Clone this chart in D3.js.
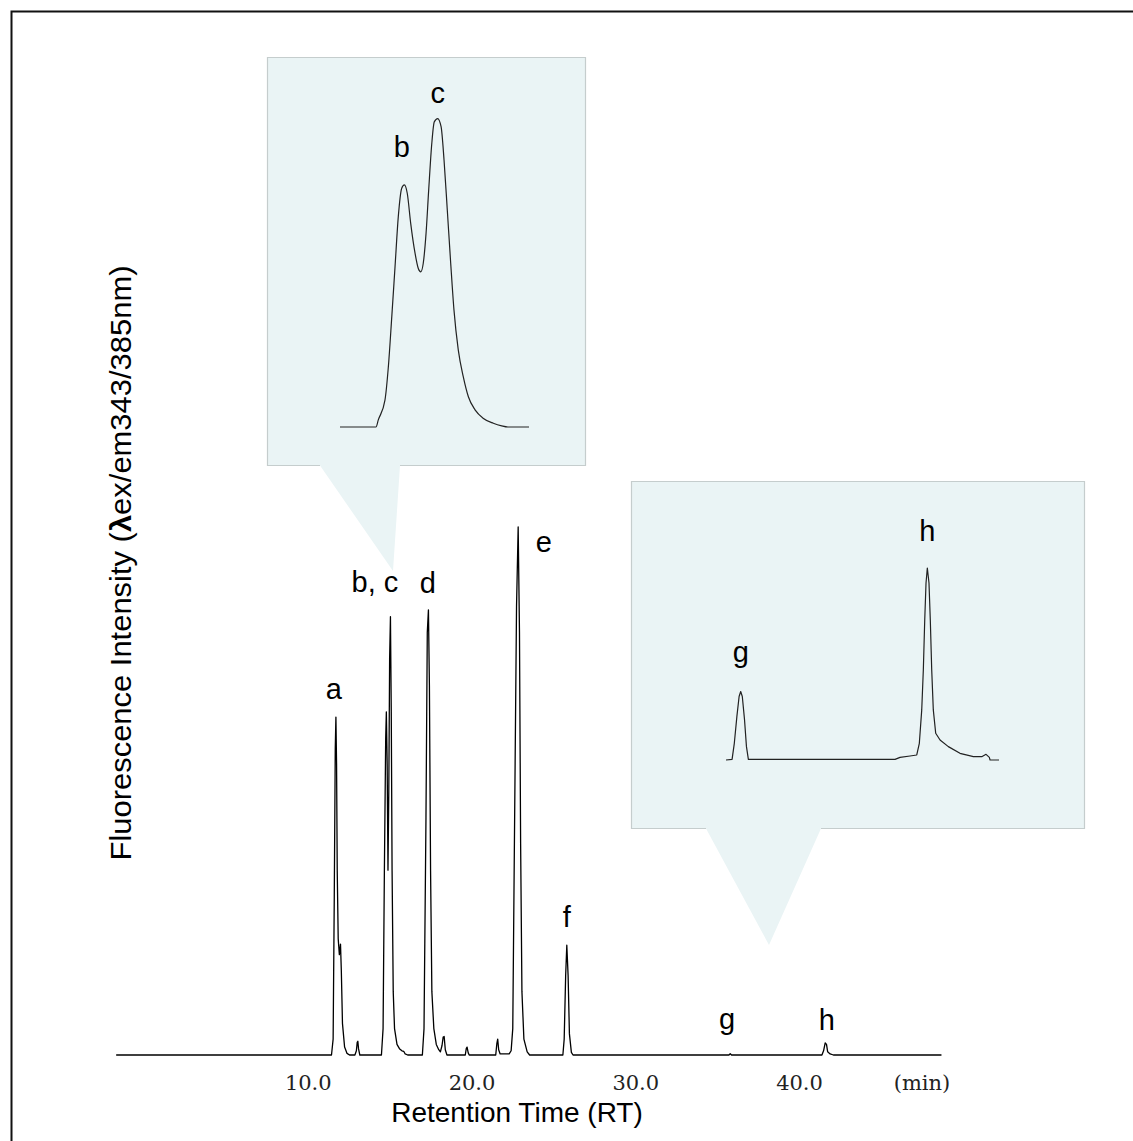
<!DOCTYPE html>
<html>
<head>
<meta charset="utf-8">
<script src="https://cdn.jsdelivr.net/npm/d3@7"></script>
<style>
  body { margin: 0; background: #fff; }
  .peak-label { font-family: "Liberation Sans", Arial, sans-serif; font-size: 29px; fill: #000; }
  .tick text { font-family: "DejaVu Serif", serif; font-size: 21px; fill: #222; }
</style>
</head>
<body>
<div id="chart"></div>
<script>
// main chromatogram trace (RT in min, intensity in arbitrary units, e = 100)
var mainRT = [-1.7, 11.45, 11.55, 11.62, 11.68, 11.72, 11.76, 11.8, 11.86, 11.93, 12.0, 12.05, 12.12, 12.25, 12.4, 12.55,
    12.88, 12.97, 13.02, 13.06, 13.1, 13.18,
    14.5, 14.6, 14.68, 14.76, 14.8, 14.85, 14.9, 14.95, 15.0, 15.05, 15.1, 15.15, 15.22, 15.3, 15.45, 15.6, 15.75, 15.86, 15.95, 16.1,
    17.0, 17.1, 17.22, 17.3, 17.37, 17.43, 17.5, 17.58, 17.7, 17.85, 18.0, 18.1, 18.2, 18.27, 18.33, 18.4, 18.5,
    19.62, 19.68, 19.73, 19.8, 19.86,
    21.48, 21.55, 21.6, 21.66, 21.75, 22.3, 22.42, 22.52, 22.62, 22.75, 22.85, 22.93, 23.0, 23.08, 23.2, 23.4, 23.55,
    25.58, 25.66, 25.75, 25.82, 25.9, 25.98, 26.1, 26.2,
    35.72, 35.8, 35.88,
    41.4, 41.5, 41.6, 41.68, 41.75, 41.9, 42.1, 48.7];
var mainIntensity = [0, 0, 3, 30, 58, 64, 55, 35, 22, 19, 21, 16, 6, 1.5, 0.3, 0,
    0, 0.8, 2.4, 2.6, 1.2, 0,
    0, 5, 35, 60, 65, 55, 35, 50, 75, 83, 65, 35, 12, 5, 2, 1.2, 0.8, 0.7, 0.2, 0,
    0, 5, 45, 80, 84.3, 70, 35, 12, 5, 2, 1, 0.6, 1.8, 3.4, 3.5, 1, 0,
    0, 1.2, 1.5, 0.4, 0,
    0, 2.2, 3, 1, 0.2, 0.2, 0.8, 5, 40, 85, 100, 80, 40, 12, 3, 0.6, 0,
    0, 3, 15, 20.8, 15, 4, 0.5, 0,
    0, 0.25, 0,
    0, 0.8, 2.3, 2, 0.6, 0.2, 0, 0];

// enlarged b, c region (upper callout)
var bcRT = [14.417, 14.649, 14.664, 14.707, 14.729, 14.751, 14.772, 14.793, 14.815, 14.832, 14.851, 14.873, 14.901, 14.922,
    14.938, 14.954, 14.972, 14.989, 15.009, 15.025, 15.047, 15.069, 15.088, 15.109, 15.131, 15.152, 15.18, 15.212,
    15.245, 15.288, 15.342, 15.406, 15.46, 15.5, 15.636];
var bcIntensity = [0, 0, 1.9, 7.2, 16.2, 29.6, 43, 56.4, 64, 64.9, 62.6, 54.6, 46.6, 42.5,
    41.6, 43.9, 51.9, 63.5, 76, 81.8, 82.7, 80.5, 71.6, 58.2, 43.9, 31.4, 20.6, 13.5,
    8.1, 4.6, 2.3, 1, 0.3, 0, 0];

// enlarged g, h region (right callout)
var ghRT = [35.34, 35.53, 35.6, 35.68, 35.75, 35.8, 35.85, 35.92, 35.98, 36.04,
    40.628, 40.784, 41.097, 41.307, 41.388, 41.463, 41.513, 41.557, 41.597, 41.638, 41.69, 41.731, 41.775, 41.825,
    41.9, 42.036, 42.295, 42.66, 43.078, 43.34, 43.475, 43.578, 43.6, 43.88];
var ghIntensity = [0, 0.008, 0.2, 0.52, 0.76, 0.82, 0.76, 0.48, 0.16, 0.008,
    0.008, 0.032, 0.048, 0.06, 0.2, 0.6, 1.08, 1.68, 2.12, 2.3, 2.12, 1.68, 1.08, 0.6,
    0.32, 0.24, 0.16, 0.08, 0.04, 0.04, 0.068, 0.032, 0, 0];

// peak labels (text, and where they sit in data units)
var peakNames = ["a", "b, c", "d", "e", "f", "g", "h"];
var peakLabelRT = [11.59, 14.1, 17.33, 24.42, 25.82, 35.6, 41.7];
var peakLabelY = [67.4, 87.7, 87.5, 95.3, 24.2, 4.9, 4.7];

var bcNames = ["b", "c"];
var bcLabelRT = [14.815, 15.047];
var bcLabelY = [72.4, 86.9];

var ghNames = ["g", "h"];
var ghLabelRT = [35.8, 41.638];
var ghLabelY = [1.17, 2.62];

var tickValues = [10, 20, 30, 40];

var w = 1133,
    h = 1141;

var svg = d3.select("#chart")
    .append("svg")
    .attr("width", w)
    .attr("height", h);

svg.append("rect").attr("width", w).attr("height", h).attr("fill", "#fff");

// frame - runs off the right and bottom edge
svg.append("rect")
    .attr("x", 11.5).attr("y", 11.5)
    .attr("width", 1200).attr("height", 1200)
    .attr("fill", "none")
    .attr("stroke", "#111")
    .attr("stroke-width", 2);

// main scales
var x = d3.scaleLinear().domain([0, 40]).range([144, 799]);
var y = d3.scaleLinear().domain([0, 100]).range([1055, 527]);

// callout boxes
var calloutFill = "#eaf4f5",
    calloutStroke = "#c5cdcd";

function callout(x0, y0, x1, y1, b0, b1, ax, ay) {
    svg.append("path")
        .attr("d", "M" + x0 + "," + y0 + "H" + x1 + "V" + y1 + "H" + b1 + "L" + ax + "," + ay + "L" + b0 + "," + y1 + "H" + x0 + "Z")
        .attr("fill", calloutFill);
    svg.append("path")
        .attr("d", "M" + b0 + "," + y1 + "H" + x0 + "V" + y0 + "H" + x1 + "V" + y1 + "H" + b1)
        .attr("fill", "none")
        .attr("stroke", calloutStroke)
        .attr("stroke-width", 1.2);
}
callout(267.5, 57.5, 585.5, 465.5, 320, 400, 393, 571);
callout(631.5, 481.5, 1084.5, 828.5, 706, 821, 769, 945);

// main trace
var mainLine = d3.line()
    .x(function (d) { return x(mainRT[d]); })
    .y(function (d) { return y(mainIntensity[d]); });

svg.append("path")
    .datum(d3.range(mainRT.length))
    .attr("d", mainLine)
    .attr("fill", "none")
    .attr("stroke", "#000")
    .attr("stroke-width", 1.3)
    .attr("stroke-linejoin", "round");

// x axis - labels only, no ticks
var xAxis = d3.axisBottom(x)
    .tickValues(tickValues)
    .tickSize(0)
    .tickPadding(0)
    .tickFormat(d3.format(".1f"));

svg.append("g")
    .attr("transform", "translate(0,1075)")
    .call(xAxis)
    .call(function (g) { g.select(".domain").remove(); });

svg.append("text")
    .attr("x", 922).attr("y", 1090)
    .attr("text-anchor", "middle")
    .style("font-family", "DejaVu Serif, serif")
    .style("font-size", "21px")
    .attr("fill", "#222")
    .text("(min)");

svg.append("text")
    .attr("x", 517).attr("y", 1122)
    .attr("text-anchor", "middle")
    .style("font-family", "Liberation Sans, Arial, sans-serif")
    .style("font-size", "28px")
    .text("Retention Time (RT)");

// y axis label
var yLabel = svg.append("text")
    .attr("transform", "translate(131,563) rotate(-90)")
    .attr("text-anchor", "middle")
    .attr("textLength", 595)
    .attr("lengthAdjust", "spacingAndGlyphs")
    .style("font-family", "Liberation Sans, Arial, sans-serif")
    .style("font-size", "29px");
yLabel.append("tspan").text("Fluorescence Intensity (");
yLabel.append("tspan").style("font-weight", "bold").text("λ");
yLabel.append("tspan").text("ex/em343/385nm)");

// peak labels
svg.selectAll(".main-label")
    .data(peakNames)
    .enter()
    .append("text")
    .attr("class", "peak-label main-label")
    .attr("text-anchor", "middle")
    .attr("x", function (d, i) { return x(peakLabelRT[i]); })
    .attr("y", function (d, i) { return y(peakLabelY[i]); })
    .text(function (d) { return d; });

// upper inset: b, c
var xBC = d3.scaleLinear().domain([14.417, 15.636]).range([340, 529]);
var yBC = d3.scaleLinear().domain([0, 100]).range([427, 54]);

svg.append("path")
    .datum(d3.range(bcRT.length))
    .attr("d", d3.line()
        .x(function (d) { return xBC(bcRT[d]); })
        .y(function (d) { return yBC(bcIntensity[d]); })
        .curve(d3.curveMonotoneX))
    .attr("fill", "none")
    .attr("stroke", "#222")
    .attr("stroke-width", 1.2);

svg.selectAll(".bc-label")
    .data(bcNames)
    .enter()
    .append("text")
    .attr("class", "peak-label bc-label")
    .attr("text-anchor", "middle")
    .attr("x", function (d, i) { return xBC(bcLabelRT[i]); })
    .attr("y", function (d, i) { return yBC(bcLabelY[i]); })
    .text(function (d) { return d; });

// right inset: g, h
var xGH = d3.scaleLinear().domain([35.34, 43.88]).range([726, 999]);
var yGH = d3.scaleLinear().domain([0, 2.3]).range([760, 568]);

svg.append("path")
    .datum(d3.range(ghRT.length))
    .attr("d", d3.line()
        .x(function (d) { return xGH(ghRT[d]); })
        .y(function (d) { return yGH(ghIntensity[d]); }))
    .attr("fill", "none")
    .attr("stroke", "#222")
    .attr("stroke-width", 1.2)
    .attr("stroke-linejoin", "round");

svg.selectAll(".gh-label")
    .data(ghNames)
    .enter()
    .append("text")
    .attr("class", "peak-label gh-label")
    .attr("text-anchor", "middle")
    .attr("x", function (d, i) { return xGH(ghLabelRT[i]); })
    .attr("y", function (d, i) { return yGH(ghLabelY[i]); })
    .text(function (d) { return d; });
</script>
</body>
</html>
